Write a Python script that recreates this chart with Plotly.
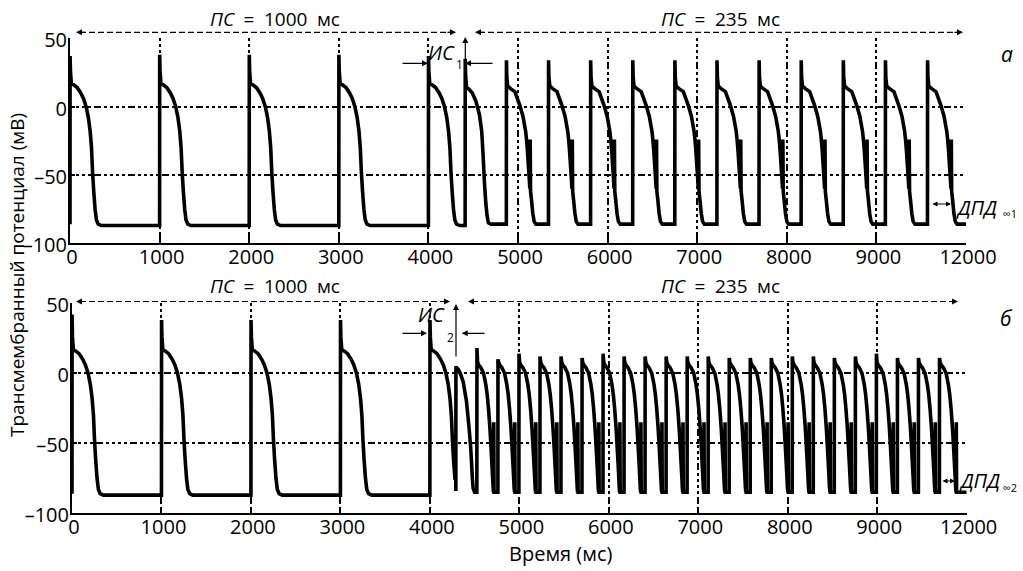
import plotly.graph_objects as go

W, H = 1023, 571
FONT = "Open Sans"

# ---------------- data ----------------
# action-potential templates: time after beat onset (ms), membrane potential (mV)
# index 1 of every template is the spike peak and is replaced by the beat's own peak value
LONG_T = [0, 1, 5, 15, 40, 80, 120, 150, 180, 205, 225, 240, 252, 265, 280, 295, 315, 350, 500]
LONG_V = [-86, 37, 26, 17, 16, 14, 10, 6, 0, -8, -18, -30, -48, -62, -75, -83, -86, -87, -87]

S2A_T = [0, 1, 5, 15, 40, 80, 120, 160, 185, 200, 215, 230, 245, 260, 290]
S2A_V = [-86, 35, 24, 14, 13, 10, 4, -6, -18, -35, -55, -70, -80, -85, -86]

HALF_T = [0, 1, 5, 15, 50, 95, 150, 185, 215, 225, 235, 245, 255, 262, 266, 270, 280, 295,
          310, 330, 400]
HALF_V = [-86, 34, 22, 15, 13, 11, 1, -7, -18, -24, -32, -42, -52, -60, -24, -62, -68, -78,
          -84, -86, -86]

S2B_T = [0, 1, 6, 26, 50, 82, 119, 148, 165, 175, 185, 193, 210]
S2B_V = [-84, 5, 4, 3, 0, -6, -20, -39, -52, -63, -75, -82, -85]

FAST_T = [0, 1, 8, 20, 45, 75, 100, 115, 130, 145, 156, 166, 175, 182, 186, 189, 192, 200]
FAST_V = [-85, 13, 8, 6, 4, 0, -8, -15, -25, -38, -50, -62, -73, -82, -85, -35, -85, -85]

TEMPLATES = {"L": (LONG_T, LONG_V), "S2a": (S2A_T, S2A_V), "H": (HALF_T, HALF_V),
             "S2b": (S2B_T, S2B_V), "F": (FAST_T, FAST_V)}

# panel а: pacing 1000 ms, premature beat, then 2:1 response to 235 ms pacing
TOP_ONSETS = [0, 1000, 2000, 3000, 4000, 4410, 4870, 5340, 5810, 6280, 6750, 7220, 7690,
              8160, 8630, 9100, 9570]
TOP_KINDS = ["L", "L", "L", "L", "L", "S2a", "H", "H", "H", "H", "H", "H", "H", "H", "H", "H", "H"]
TOP_PEAKS = [37, 38, 38, 38, 37, 35, 34, 34, 34, 34, 34, 34, 34, 34, 34, 34, 34]

# panel б: pacing 1000 ms, premature beat, then 1:1 response to 235 ms pacing
BOT_ONSETS = [0, 1000, 2000, 3000, 4000, 4290, 4525, 4760, 4995, 5230, 5465, 5700, 5935, 6170,
              6405, 6640, 6875, 7110, 7345, 7580, 7815, 8050, 8285, 8520, 8755, 8990, 9225,
              9460, 9695]
BOT_KINDS = ["L", "L", "L", "L", "L", "S2b"] + ["F"] * 23
BOT_PEAKS = [42, 38, 38, 38, 38, 5, 18, 10, 14, 12, 12, 11, 14, 12, 12, 12, 12, 12, 11, 11,
             11, 12, 12, 11, 12, 14, 11, 11, 11]

T_END = 10000
X_TICKS = [0, 1000, 2000, 3000, 4000, 5000, 6000, 7000, 8000, 9000, 10000]
X_TICKTEXT = ["0", "1000", "2000", "3000", "4000", "5000", "6000", "7000", "8000", "9000", "12000"]
Y_TICKS = [-100, -50, 0, 50]
Y_TICKTEXT = ["–100", "–50", "0", "50"]


def build(onsets, kinds, peaks, end):
    xs, ys = [], []
    for i, t0 in enumerate(onsets):
        t_next = onsets[i + 1] if i + 1 < len(onsets) else end
        tt, vv = TEMPLATES[kinds[i]]
        last = vv[0]
        for j, (dt, v) in enumerate(zip(tt, vv)):
            if j == 1:
                v = peaks[i]
            if t0 + dt >= t_next:
                break
            xs.append(t0 + dt)
            ys.append(v)
            last = v
        xs.append(t_next)
        ys.append(last)
    return xs, ys


def px(x):
    return x / W


def py(y):
    return 1 - y / H


fig = go.Figure()
tx, ty = build(TOP_ONSETS, TOP_KINDS, TOP_PEAKS, T_END)
bx, by = build(BOT_ONSETS, BOT_KINDS, BOT_PEAKS, T_END)
fig.add_trace(go.Scatter(x=tx, y=ty, mode="lines", line=dict(color="black", width=3.6, simplify=False),
                         xaxis="x", yaxis="y", showlegend=False, hoverinfo="skip", cliponaxis=False))
fig.add_trace(go.Scatter(x=bx, y=by, mode="lines", line=dict(color="black", width=3.6, simplify=False),
                         xaxis="x2", yaxis="y2", showlegend=False, hoverinfo="skip", cliponaxis=False))

GRID_DASH = "3px,3px,3px,3px,3px,3px,3px,3px,7px,3px"
xax = dict(range=[0, T_END], tickvals=X_TICKS, ticktext=X_TICKTEXT, showgrid=True,
           gridcolor="black", gridwidth=1.5, griddash=GRID_DASH, zeroline=False,
           showline=True, linecolor="black", linewidth=2, ticks="inside", ticklen=5,
           tickwidth=1.5, tickcolor="black", tickfont=dict(family=FONT, size=20, color="black"),
           fixedrange=True, automargin=False, ticklabelstandoff=-5, ticklabelshift=2)
yax = dict(range=[-100, 50], tickvals=Y_TICKS, ticktext=Y_TICKTEXT, showgrid=True,
           gridcolor="black", gridwidth=1.5, griddash=GRID_DASH, zeroline=False,
           showline=True, linecolor="black", linewidth=2, ticks="inside", ticklen=5,
           tickwidth=1.5, tickcolor="black", tickfont=dict(family=FONT, size=20, color="black"),
           fixedrange=True, automargin=False, ticklabelstandoff=-3, ticklabelshift=2)

fig.update_layout(
    template="none",
    width=W, height=H, margin=dict(l=0, r=0, t=0, b=0, autoexpand=False),
    paper_bgcolor="white", plot_bgcolor="white",
    xaxis=dict(xax, domain=[px(70), px(966)], anchor="y"),
    yaxis=dict(yax, domain=[py(243.3), py(38.3)], anchor="x"),
    xaxis2=dict(xax, domain=[px(72), px(966.7)], anchor="y2"),
    yaxis2=dict(yax, domain=[py(513.3), py(303.3)], anchor="x2"),
)

ann = []
shapes = []
SP = "\u2002"


def text(x, y, s, size=19, italic=False, angle=0):
    ann.append(dict(x=px(x), y=py(y), xref="paper", yref="paper", text=(f"<i>{s}</i>" if italic else s),
                    showarrow=False, xanchor="center", yanchor="middle", textangle=angle,
                    font=dict(family=FONT, size=size, color="black")))


def arrow(x, y, ax, ay, side="end", width=1.2):
    # head at (x, y), tail at (ax, ay) - pixel coordinates
    ann.append(dict(x=px(x), y=py(y), xref="paper", yref="paper", ax=ax - x, ay=ay - y,
                    axref="pixel", ayref="pixel", text="", showarrow=True, arrowhead=2,
                    arrowsize=1, arrowwidth=width, arrowcolor="black", arrowside=side,
                    standoff=0, startstandoff=0))


def dline(x0, x1, y, dash="6px,3px"):
    shapes.append(dict(type="line", xref="paper", yref="paper", x0=px(x0), x1=px(x1),
                       y0=py(y), y1=py(y), line=dict(color="black", width=1.2, dash=dash)))


PS1000 = f"<i>ПС</i>{SP}={SP}1000{SP}мс"
PS235 = f"<i>ПС</i>{SP}={SP}235{SP}мс"

# titles
text(17, 275, "Трансмембранный потенциал (мВ)", size=19, angle=-90)
text(560, 553, "Время (мс)", size=20)

# panel а
text(275, 19, PS1000, size=19)
text(720, 19, PS235, size=19)
dline(80, 452, 32.3)
arrow(76, 32.3, 86, 32.3)
arrow(456, 32.3, 446, 32.3)
dline(479, 960, 32.3)
arrow(475, 32.3, 485, 32.3)
arrow(963, 32.3, 953, 32.3)
arrow(465.3, 37, 465.3, 67)
arrow(428, 63.3, 401, 63.3)
arrow(465, 63.3, 494, 63.3)
text(441, 52, "ИС", size=20, italic=True)
text(459, 64, "1", size=12)
text(1007, 54, "а", size=21, italic=True)
arrow(951, 204, 931, 204, side="end+start", width=1)
text(976, 207, "ДПД", size=20, italic=True)
text(1010, 213, "∞1", size=11)

# panel б
text(275, 286, PS1000, size=19)
text(720, 286, PS235, size=19)
dline(80, 446, 301.5)
arrow(76, 301.5, 86, 301.5)
arrow(450, 301.5, 440, 301.5)
dline(472, 955, 301.5)
arrow(468, 301.5, 478, 301.5)
arrow(958, 301.5, 948, 301.5)
arrow(456, 304, 456, 358)
arrow(427, 333.3, 401, 333.3)
arrow(461.7, 333.3, 486, 333.3)
text(431, 314, "ИС", size=20, italic=True)
text(450, 337, "2", size=12)
text(1006, 318, "б", size=21, italic=True)
arrow(955, 481, 941, 481, side="end+start", width=1)
text(979, 480, "ДПД", size=20, italic=True)
text(1010, 487, "∞2", size=11)

fig.update_layout(annotations=ann, shapes=shapes)
fig.write_html("out.html", config={"displayModeBar": False},
               post_script="document.body.style.margin='0';")
